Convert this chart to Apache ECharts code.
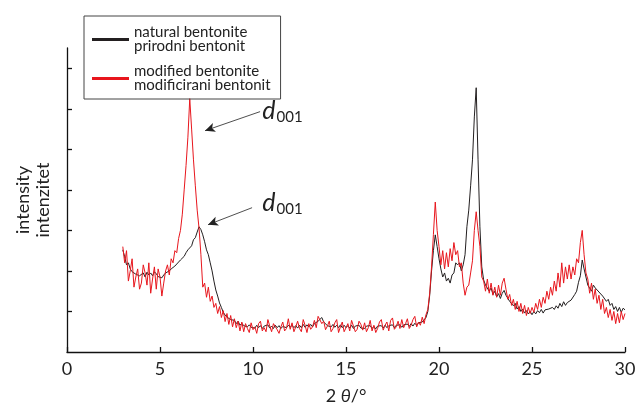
<!DOCTYPE html>
<html>
<head>
<meta charset="utf-8">
<script src="https://cdn.jsdelivr.net/npm/echarts@6/dist/echarts.min.js"></script>
<style>html,body{margin:0;padding:0;background:#fff}#c{width:635px;height:405px}</style>
</head>
<body>
<div id="c"></div>
<script>
// 2θ grid: 3.0 .. 30.0 step 0.1
const xStart = 3.0, xStep = 0.1;
const seriesNames = ['natural bentonite\nprirodni bentonit', 'modified bentonite\nmodificirani bentonit'];
const xTicks = [0, 5, 10, 15, 20, 25, 30];
const yTicks = [1, 2, 3, 4, 5, 6, 7];

const natural = [
 2.52,2.35,2.15,2.2,2.05,1.98,2.02,1.92,1.96,1.88,
 1.9,1.95,1.85,1.97,1.9,1.95,1.88,1.98,1.93,1.86,
 1.88,1.83,1.9,1.95,1.98,2.0,2.05,2.07,2.12,2.15,
 2.22,2.27,2.3,2.36,2.45,2.52,2.56,2.62,2.77,2.82,
 2.96,3.09,3.02,2.89,2.72,2.52,2.4,2.2,2.0,1.75,
 1.53,1.38,1.21,1.1,0.98,0.91,0.86,0.84,0.8,0.79,
 0.78,0.7,0.76,0.66,0.71,0.65,0.69,0.62,0.67,0.61,
 0.64,0.59,0.66,0.6,0.65,0.58,0.64,0.6,0.67,0.59,
 0.64,0.58,0.66,0.6,0.65,0.58,0.63,0.67,0.6,0.66,
 0.61,0.66,0.6,0.65,0.59,0.66,0.6,0.68,0.61,0.67,
 0.62,0.68,0.62,0.7,0.68,0.76,0.8,0.85,0.74,0.72,
 0.65,0.69,0.62,0.68,0.61,0.66,0.6,0.67,0.6,0.66,
 0.6,0.65,0.59,0.66,0.58,0.64,0.6,0.66,0.59,0.63,
 0.58,0.64,0.6,0.65,0.58,0.63,0.57,0.64,0.6,0.65,
 0.59,0.66,0.6,0.65,0.61,0.67,0.6,0.66,0.62,0.67,
 0.61,0.67,0.63,0.69,0.63,0.7,0.64,0.71,0.66,0.72,
 0.68,0.74,0.75,0.85,1.0,1.4,2.0,2.5,2.89,2.6,
 2.3,2.05,1.85,1.95,1.75,1.82,1.7,1.9,1.95,2.2,
 2.15,2.2,2.0,2.15,2.4,3.09,3.5,4.1,4.74,5.8,
 6.52,4.74,3.09,2.1,1.78,1.65,1.68,1.5,1.58,1.42,
 1.5,1.36,1.44,1.32,1.45,1.52,1.4,1.38,1.25,1.28,
 1.14,1.2,1.06,1.12,1.0,1.06,0.96,1.02,0.94,1.0,
 0.92,1.0,0.94,1.02,0.97,1.05,0.96,1.04,1.0,1.06,
 1.02,1.1,1.05,1.14,1.08,1.2,1.12,1.24,1.15,1.22,
 1.18,1.28,1.26,1.42,1.5,1.72,1.88,2.27,2.05,1.85,
 1.65,1.62,1.5,1.65,1.58,1.62,1.48,1.52,1.38,1.4,
 1.25,1.3,1.15,1.2,1.05,1.12,1.0,1.1,0.98,1.08,
 1.04
];

const modified = [
 2.6,2.2,2.5,1.75,2.0,2.3,1.6,1.85,2.05,1.55,
 1.7,2.15,1.95,1.65,2.2,1.45,1.8,2.1,1.55,2.05,
 1.85,1.38,1.7,2.0,2.15,1.9,2.3,2.2,2.5,2.45,
 2.8,3.0,3.4,4.0,4.6,5.3,6.25,5.5,4.74,4.1,
 3.5,3.05,2.4,1.6,1.7,1.35,1.6,1.25,1.38,1.1,
 1.2,0.95,1.12,0.85,1.02,0.75,0.95,0.68,0.9,0.62,
 0.82,0.6,0.76,0.52,0.74,0.5,0.7,0.58,0.48,0.72,
 0.55,0.62,0.46,0.7,0.76,0.52,0.6,0.5,0.8,0.64,
 0.5,0.7,0.74,0.55,0.46,0.62,0.74,0.52,0.58,0.82,
 0.56,0.72,0.5,0.62,0.76,0.58,0.5,0.8,0.66,0.48,
 0.7,0.56,0.62,0.78,0.6,0.88,0.92,0.7,0.76,0.55,
 0.64,0.76,0.5,0.58,0.72,0.8,0.48,0.62,0.74,0.5,
 0.6,0.7,0.52,0.78,0.64,0.5,0.56,0.76,0.68,0.54,
 0.72,0.5,0.6,0.78,0.52,0.66,0.48,0.58,0.74,0.8,
 0.54,0.66,0.74,0.52,0.78,0.84,0.56,0.62,0.76,0.58,
 0.8,0.6,0.7,0.82,0.58,0.66,0.8,0.88,0.62,0.74,
 0.66,0.86,0.7,0.92,1.05,1.45,2.1,2.9,3.7,3.0,
 2.6,2.15,2.5,2.05,2.45,2.1,2.55,2.25,2.7,2.4,
 2.5,2.1,2.2,1.7,1.4,1.6,1.65,1.95,2.25,3.0,
 3.46,3.0,2.6,1.85,1.75,1.5,1.8,1.45,1.7,1.4,
 1.6,1.35,1.65,1.4,1.7,1.82,1.55,1.3,1.42,1.15,
 1.3,1.05,1.25,1.0,1.2,0.95,1.15,0.9,1.1,0.95,
 1.1,0.98,1.2,1.05,1.3,1.1,1.35,1.2,1.5,1.3,
 1.6,1.4,1.75,1.5,1.95,1.6,2.2,1.7,2.1,1.8,
 2.15,1.8,2.1,1.9,2.3,2.2,2.7,3.0,2.4,1.95,
 1.8,1.45,1.7,1.3,1.55,1.2,1.4,1.05,1.3,0.95,
 1.1,0.85,1.05,0.78,1.0,0.7,0.95,0.72,1.0,0.8,
 0.95
];

// annotation arrows [from, to] in data coords, and label anchors
const arrows = [
  [[10.38, 5.93], [7.42, 5.46]],
  [[9.95, 3.56], [7.58, 3.14]]
];
const labelAnchors = [[10.5, 5.95], [10.5, 3.68]];

function pairs(arr) {
  return arr.map((v, i) => [+(xStart + i * xStep).toFixed(2), v]);
}

const FONT = 'Lato';
const chart = echarts.init(document.getElementById('c'), null, {renderer: 'canvas'});
const option = {
  animation: false,
  backgroundColor: '#fff',
  textStyle: {fontFamily: FONT},
  grid: {left: 67, right: 10, top: 48, bottom: 53, containLabel: false, outerBoundsMode: 'none'},
  legend: {
    orient: 'vertical', left: 84, top: 16,
    padding: [9, 10, 6, 8],
    borderColor: '#444', borderWidth: 1,
    itemWidth: 37, itemHeight: 3, itemGap: 10,
    icon: 'rect',
    textStyle: {fontFamily: FONT, fontSize: 15, lineHeight: 14, color: '#222'},
    data: seriesNames
  },
  xAxis: {
    type: 'value', min: 0, max: 30, interval: 5,
    axisLine: {lineStyle: {color: '#111', width: 1.3}},
    axisTick: {inside: true, length: 5, lineStyle: {color: '#111', width: 1.3}},
    axisLabel: {fontFamily: FONT, fontSize: 18, color: '#222', margin: 8},
    splitLine: {show: false},
    name: '2 {i|θ}/°', nameLocation: 'middle', nameGap: 35,
    nameTextStyle: {fontFamily: FONT, fontSize: 18, color: '#222',
      rich: {i: {fontFamily: FONT, fontSize: 18, fontStyle: 'italic', color: '#222'}}}
  },
  yAxis: {
    type: 'value', min: 0, max: 7.5,
    axisLine: {show: true, lineStyle: {color: '#111', width: 1.3}},
    axisTick: {show: true, inside: true, length: 5, customValues: yTicks, lineStyle: {color: '#111', width: 1.3}},
    axisLabel: {show: false},
    splitLine: {show: false},
    name: 'intensity\nintenzitet', nameLocation: 'middle', nameGap: 14,
    nameTextStyle: {fontFamily: FONT, fontSize: 18, lineHeight: 20, color: '#222'}
  },
  series: [
    {
      name: seriesNames[0], type: 'line', data: pairs(natural),
      showSymbol: false, symbol: 'none', color: '#231f20',
      lineStyle: {width: 1, color: '#231f20'}, z: 2,
      markLine: {
        silent: true, symbol: ['none', 'arrow'], symbolSize: [7, 10],
        lineStyle: {color: '#222', width: 0.8, type: 'solid'},
        label: {show: false},
        data: arrows.map(a => [{coord: a[0]}, {coord: a[1]}])
      }
    },
    {
      name: seriesNames[1], type: 'line', data: pairs(modified),
      showSymbol: false, symbol: 'none', color: '#e8161d',
      lineStyle: {width: 1, color: '#e8161d'}, z: 3
    }
  ]
};
chart.setOption(option);

const graphics = labelAnchors.map(p => {
  const px = chart.convertToPixel({gridIndex: 0}, p);
  return {
    type: 'text', x: px[0], y: px[1],
    style: {
      text: '{d|d}{s|001}',
      verticalAlign: 'middle',
      rich: {
        d: {fontFamily: FONT, fontSize: 25, fontStyle: 'italic', fill: '#222'},
        s: {fontFamily: FONT, fontSize: 15, fill: '#222', padding: [12, 0, 0, 1]}
      }
    }
  };
});
chart.setOption({graphic: graphics});
</script>
</body>
</html>
